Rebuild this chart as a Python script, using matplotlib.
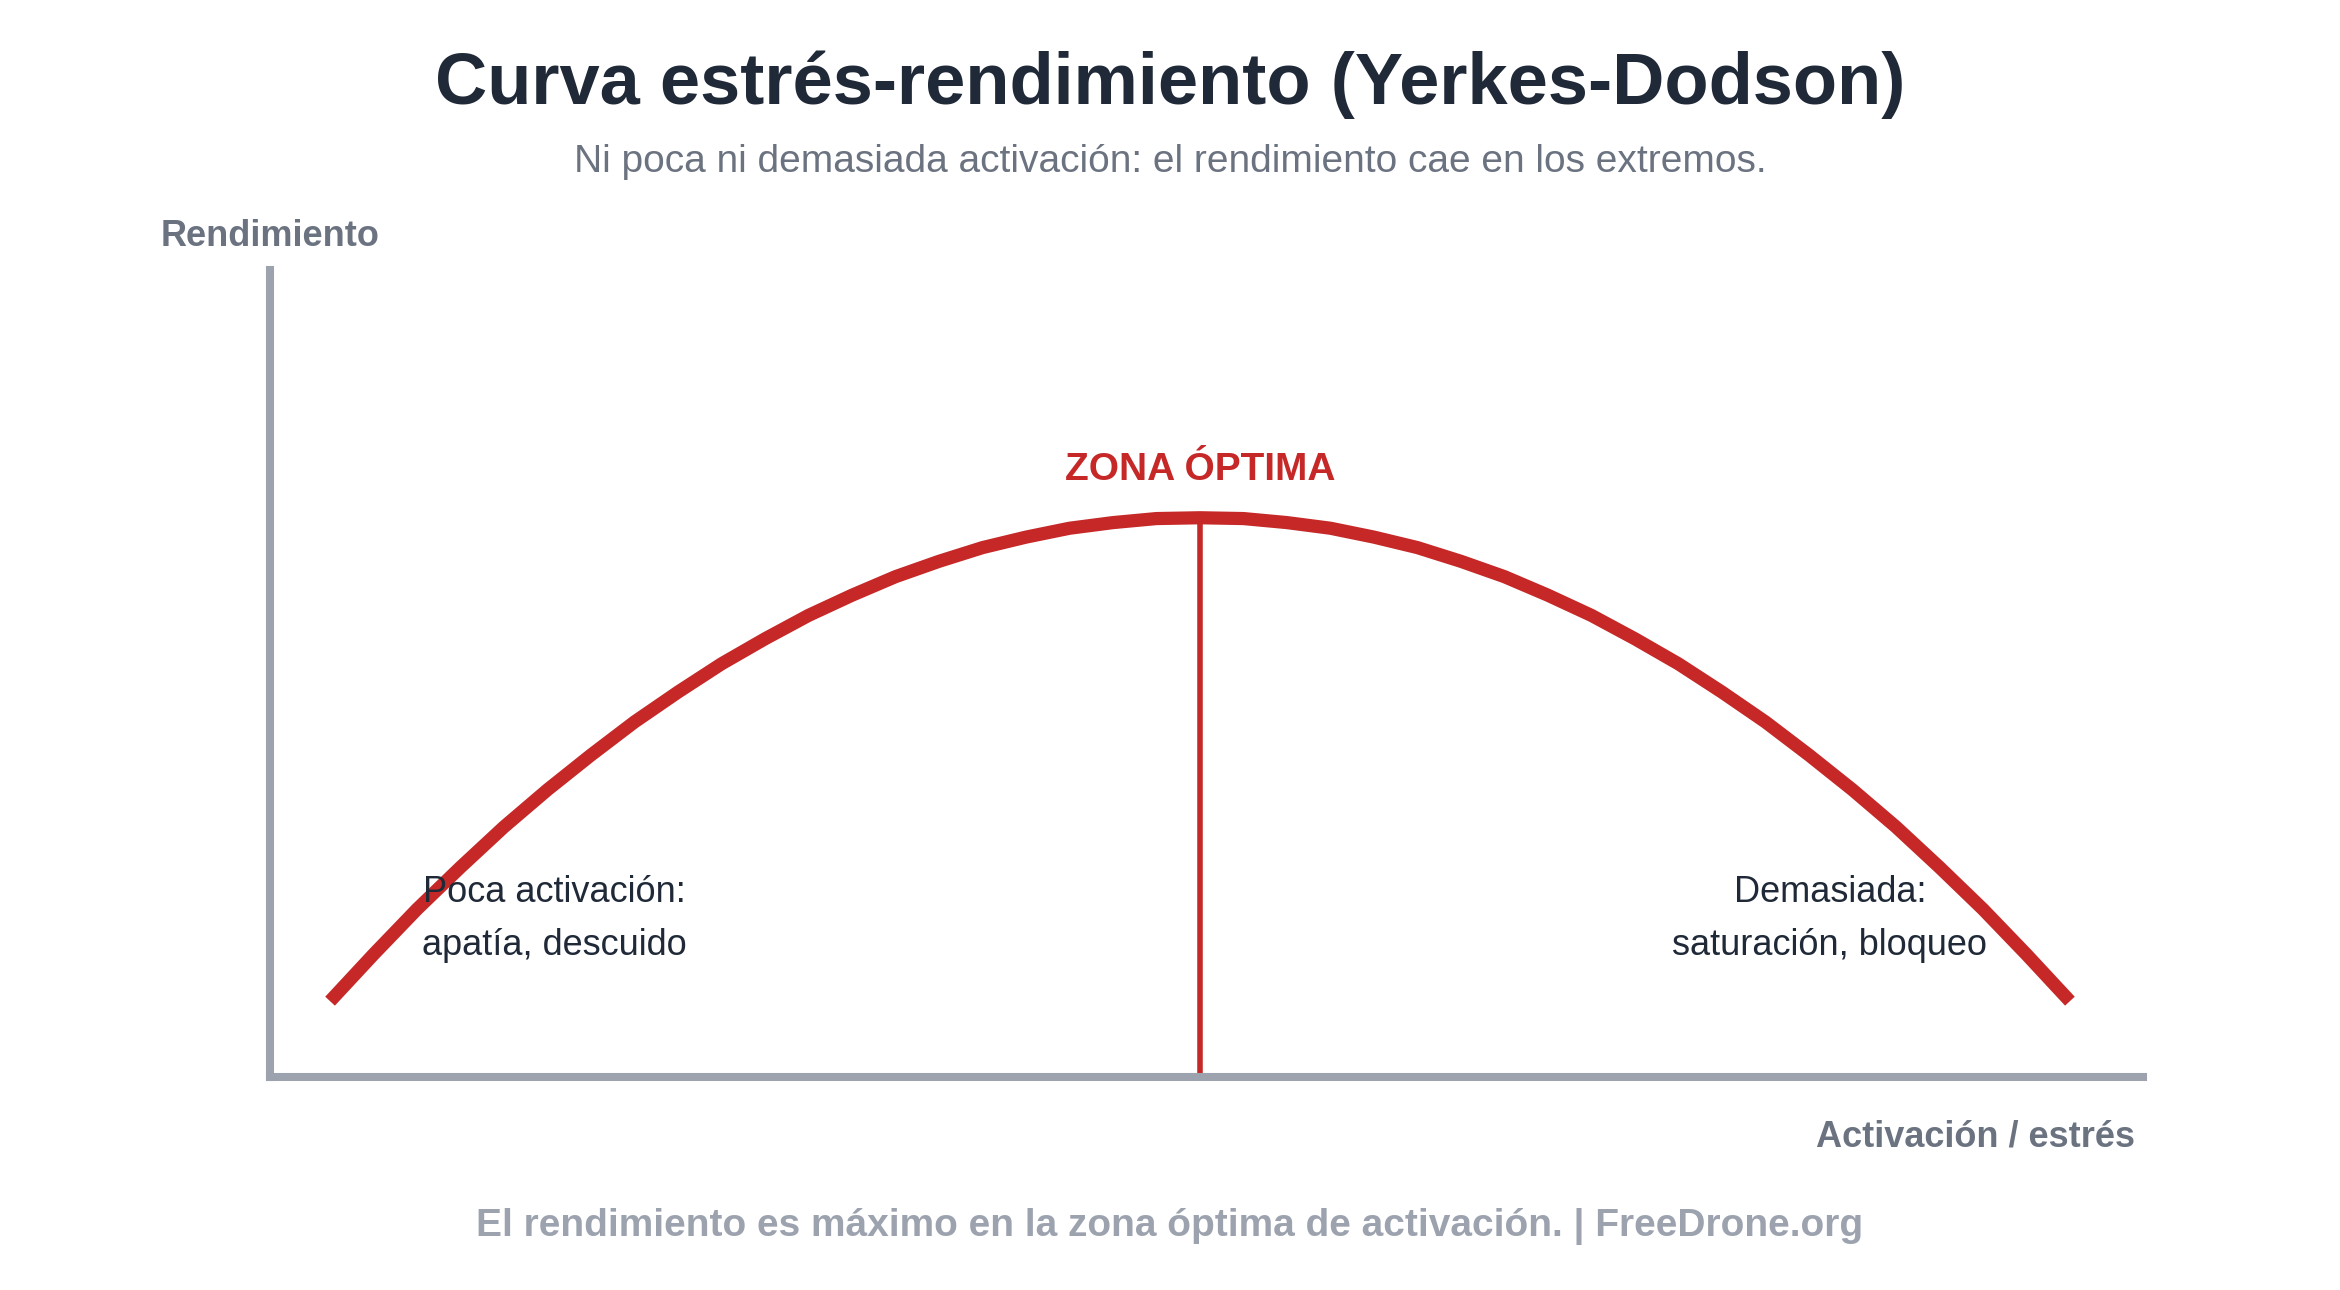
import matplotlib
matplotlib.use("Agg")
import matplotlib.pyplot as plt

plt.rcParams['font.family'] = ['Liberation Sans', 'DejaVu Sans']

# Datos (activación 0-10, rendimiento 0-100)
activacion = [0, 0.25, 0.5, 0.75, 1, 1.25, 1.5, 1.75, 2, 2.25, 2.5,
              2.75, 3, 3.25, 3.5, 3.75, 4, 4.25, 4.5, 4.75, 5,
              5.25, 5.5, 5.75, 6, 6.25, 6.5, 6.75, 7, 7.25, 7.5,
              7.75, 8, 8.25, 8.5, 8.75, 9, 9.25, 9.5, 9.75, 10]
rendimiento = [9.4, 15.2, 20.8, 26.0, 31.0, 35.6, 39.9, 44.0, 47.7, 51.2, 54.3,
               57.2, 59.7, 62.0, 63.9, 65.6, 66.9, 68.0, 68.7, 69.2, 69.3,
               69.2, 68.7, 68.0, 66.9, 65.6, 63.9, 62.0, 59.7, 57.2, 54.3,
               51.2, 47.7, 44.0, 39.9, 35.6, 31.0, 26.0, 20.8, 15.2, 9.4]
x_optimo = 5
y_optimo = 69.3

titulo = "Curva estrés-rendimiento (Yerkes-Dodson)"
subtitulo = "Ni poca ni demasiada activación: el rendimiento cae en los extremos."
pie = "El rendimiento es máximo en la zona óptima de activación. | FreeDrone.org"

ROJO = "#c62828"
OSCURO = "#1f2937"
GRIS = "#6b7280"
GRIS_CLARO = "#9ca3af"

fig = plt.figure(figsize=(23.4, 12.9), dpi=100)
ax = fig.add_axes([0.1154, 0.1651, 0.8004, 0.6256])

# Línea de la zona óptima y curva
ax.vlines(x_optimo, 0, y_optimo, color=ROJO, linewidth=4, zorder=2)
ax.plot(activacion, rendimiento, color=ROJO, linewidth=9.5,
        solid_capstyle="butt", solid_joinstyle="round", zorder=3)

ax.text(x_optimo, 74.0, "ZONA ÓPTIMA", color=ROJO, fontsize=28,
        fontweight="bold", ha="center", va="baseline")

ax.text(1.29, 21.7, "Poca activación:", color=OSCURO, fontsize=26,
        ha="center", va="baseline")
ax.text(1.29, 15.1, "apatía, descuido", color=OSCURO, fontsize=26,
        ha="center", va="baseline")
ax.text(8.62, 21.7, "Demasiada:", color=OSCURO, fontsize=26,
        ha="center", va="baseline")
ax.text(8.62, 15.1, "saturación, bloqueo", color=OSCURO, fontsize=26,
        ha="center", va="baseline")

# Ejes
ax.set_xlim(-0.345, 10.42)
ax.set_ylim(0, 100)
for lado in ["top", "right"]:
    ax.spines[lado].set_visible(False)
for lado in ["left", "bottom"]:
    ax.spines[lado].set_color(GRIS_CLARO)
    ax.spines[lado].set_linewidth(5.8)
ax.set_xticks([])
ax.set_yticks([])
ax.patch.set_alpha(0)

# Textos de la figura
fig.text(0.5, 0.919, titulo, color=OSCURO, fontsize=52, fontweight="bold",
         ha="center", va="baseline")
fig.text(0.5, 0.8667, subtitulo, color=GRIS, fontsize=28,
         ha="center", va="baseline")
fig.text(0.0688, 0.8093, "Rendimiento", color=GRIS, fontsize=26,
         fontweight="bold", ha="left", va="baseline")
fig.text(0.9124, 0.1116, "Activación / estrés", color=GRIS, fontsize=26,
         fontweight="bold", ha="right", va="baseline")
fig.text(0.5, 0.0419, pie, color=GRIS_CLARO, fontsize=28, fontweight="bold",
         ha="center", va="baseline")

fig.savefig("out.png", dpi=100, facecolor="white")
